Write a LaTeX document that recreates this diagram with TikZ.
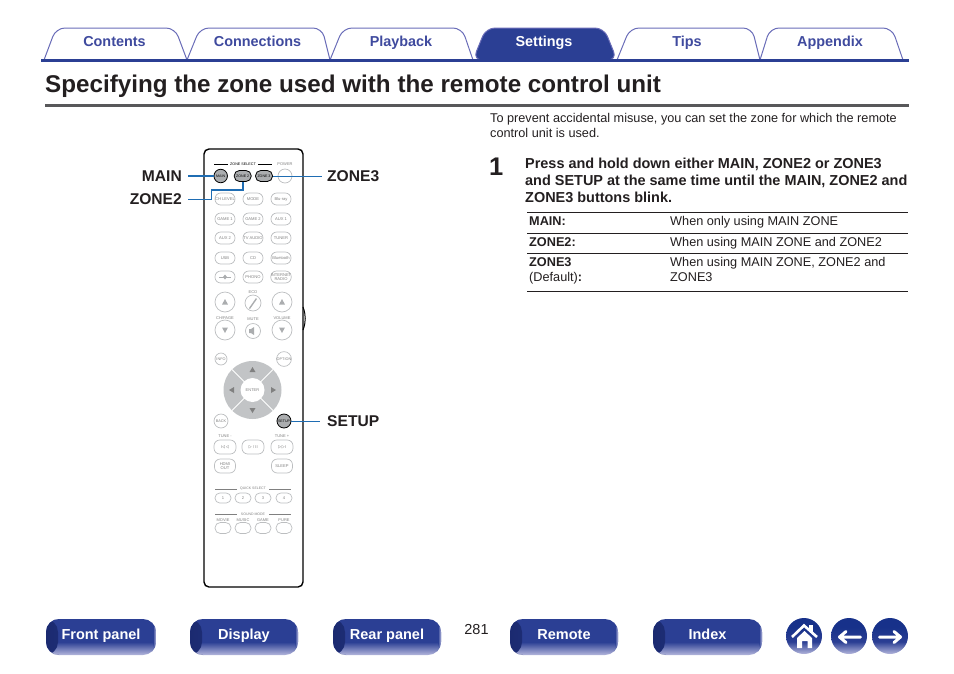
\documentclass[tikz,border=0pt]{standalone}
\usepackage{fontspec}
\usepackage{xcolor}
\setmainfont{Liberation Sans}
\usetikzlibrary{shapes.geometric, arrows, positioning, calc}

\definecolor{navblue}{HTML}{2B3F94}
\definecolor{navdark}{HTML}{1B2A70}
\definecolor{navtop}{HTML}{17318A}
\definecolor{navpale}{HTML}{B4B6DC}
\definecolor{navline}{HTML}{6A6DB8}
\definecolor{navtext}{HTML}{3F4A9E}
\definecolor{inkblack}{HTML}{231F20}
\definecolor{rulegray}{HTML}{58585A}
\definecolor{keygray}{HTML}{ABADAF}
\definecolor{ringgray}{HTML}{C2C4C6}
\definecolor{keyline}{HTML}{BCBEC0}
\definecolor{calloutblue}{HTML}{1F6DB3}

\pgfdeclareverticalshading{btnfill}{100bp}{color(0bp)=(navpale); color(25bp)=(navpale); color(43bp)=(navblue); color(75bp)=(navblue); color(100bp)=(navblue)}
\pgfdeclareverticalshading{ballfill}{100bp}{color(0bp)=(navpale); color(25bp)=(navpale); color(42bp)=(navblue); color(62bp)=(navtop); color(100bp)=(navtop)}

\tikzset{
    tabtext/.style={font=\fontsize{14.4}{14.4}\selectfont\bfseries, navtext, inner sep=0pt, anchor=base},
    navbtn/.style={rounded corners=13pt, minimum width=#1, minimum height=36pt, inner sep=0pt,
        shading=btnfill, text=white,
        path picture={
            \shade[left color=navdark, right color=navblue, draw=none] (path picture bounding box.south west) rectangle ++(12pt,36pt);
            \shade[left color=navblue, right color=navpale, draw=none] (path picture bounding box.south east) rectangle ++(-3pt,36pt);
        }},
    navlabel/.style={text=white, font=\fontsize{14.5}{14.5}\selectfont\bfseries, inner sep=0pt, anchor=base},
    roundnav/.style={circle, minimum size=36pt, inner sep=0pt, shading=ballfill},
    ovalkey/.style={draw=keyline, line width=0.7pt, rounded corners=5.8pt, minimum width=#1, minimum height=12pt,
        inner sep=0pt, font=\fontsize{4.1}{4.3}\selectfont, text=gray, align=center},
    bigkey/.style={draw=keyline, line width=0.7pt, circle, minimum size=#1, inner sep=0pt,
        font=\fontsize{3.8}{4}\selectfont, text=gray},
    hotkey/.style={draw=black, line width=0.8pt, fill=keygray, rounded corners=5.2pt, inner sep=0pt, text=black,
        font=\fontsize{3.6}{3.6}\selectfont},
    keycap/.style={font=\fontsize{4}{4.2}\selectfont, text=gray, inner sep=0pt},
    calloutlbl/.style={font=\fontsize{15.6}{15.6}\selectfont\bfseries, inkblack, inner sep=0pt},
    callout/.style={calloutblue, line width=#1},
    callout/.default=1pt,
    bodytext/.style={font=\fontsize{12.7}{15}\selectfont, inkblack, inner sep=0pt, anchor=base west},
    steptext/.style={font=\fontsize{14.45}{17}\selectfont\bfseries, inkblack, inner sep=0pt, anchor=base west},
    tablerule/.style={inkblack, line width=0.8pt}
}

\begin{document}
\begin{tikzpicture}[x=1pt, y=-1pt]
\useasboundingbox (0,0) rectangle (954,673);

% Tabs
\foreach \xa/\xb/\xc/\xd/\xt/\tablabel/\tabname in {
    44/63/170/187/114.5/Contents/contents, 187/207/317/330/257.5/Connections/connections,
    330/350/457/473/401/Playback/playback, 617/637/747/760/687/Tips/tips, 760/777/887/903/830/Appendix/appendix} {
    \draw[navline, line width=1pt, rounded corners=9pt]
        (\xa,60) -- (\xb-7,28) -- (\xc+5,28) -- (\xd,60);
    \node[tabtext] (tab\tabname) at (\xt,46) {\tablabel};
}
\fill[navblue, draw=navline, line width=1pt, rounded corners=9pt] (473,60) -- (486,28) -- (604,28) -- (617,60) -- cycle;
\node[tabtext, text=white] (tabsettings) at (544,46) {Settings};
\fill[navblue] (41,58.5) rectangle (909,61.5);

% Title
\node[anchor=base west, inner sep=0pt, inkblack, font=\fontsize{24.2}{24.2}\selectfont\bfseries] (title) at (45,92)
    {Specifying the zone used with the remote control unit};
\fill[rulegray] (45,103.5) rectangle (909,106.5);

% Remote body
\draw[black, line width=1.4pt, rounded corners=5pt] (204,149) rectangle (303,587);
\draw[black, line width=1pt] (303,307) .. controls (306,315) and (306,322) .. (303,330);

% Zone select row
\draw[black, line width=0.5pt] (214,164) -- (228,164) (258,164) -- (272,164);
\node[keycap, text=black, font=\fontsize{3.7}{4}\selectfont] (capzone) at (243,164) {ZONE SELECT};
\node[keycap] (cappower) at (285,164) {POWER};
\node[hotkey, circle, minimum size=13.5pt] (btnmain) at (220.7,176) {MAIN};
\node[hotkey, minimum width=17pt, minimum height=11pt] (btnzonetwo) at (242.7,176) {ZONE 2};
\node[hotkey, minimum width=17pt, minimum height=11pt] (btnzonethree) at (264,176) {ZONE 3};
\node[bigkey=14pt] (btnpower) at (285,176) {};

% Input keys
\foreach \ky/\ka/\kb/\kc/\kname in {
    199/CH LEVEL/MODE/Blu-ray/rowa, 219/GAME 1/GAME 2/AUX 1/rowb,
    238/AUX 2/TV AUDIO/TUNER/rowc, 258/USB/CD/Bluetooth/rowd} {
    \node[ovalkey=20pt] (\kname a) at (225,\ky) {\ka};
    \node[ovalkey=20pt] (\kname b) at (253,\ky) {\kb};
    \node[ovalkey=20pt] (\kname c) at (281,\ky) {\kc};
}
\node[ovalkey=20pt] (rowea) at (225,277) {};
\fill[keygray] (225,274.5) -- (227,277) -- (225,279.5) -- (223,277) -- cycle;
\draw[keygray, line width=0.5pt] (219,277) -- (231,277);
\node[ovalkey=20pt] (roweb) at (253,277) {PHONO};
\node[ovalkey=20pt] (rowec) at (281,277) {INTERNET\\RADIO};

% Volume block
\node[keycap] (capeco) at (253,292) {ECO};
\node[keycap] (capch) at (225,318) {CH/PAGE};
\node[keycap] (capmute) at (253,319) {MUTE};
\node[keycap] (capvol) at (282,318) {VOLUME};
\node[bigkey=20pt] (chup) at (225,302) {};
\node[bigkey=16pt] (btneco) at (253,303) {};
\node[bigkey=20pt] (volup) at (282,302) {};
\node[bigkey=20pt] (chdown) at (225,330) {};
\node[bigkey=15pt] (btnmute) at (253,331) {};
\node[bigkey=20pt] (voldown) at (282,330) {};
\foreach \tipname in {chup, volup} {
    \fill[keygray] ($(\tipname)+(-3,2.5)$) -- ($(\tipname)+(3,2.5)$) -- ($(\tipname)+(0,-3)$) -- cycle;
}
\foreach \tipname in {chdown, voldown} {
    \fill[keygray] ($(\tipname)+(-3,-2.5)$) -- ($(\tipname)+(3,-2.5)$) -- ($(\tipname)+(0,3)$) -- cycle;
}
\fill[keygray] (249,308) -- (256,298) -- (257,299) -- (250,309) -- cycle;
\fill[keygray] (249,329) rectangle (251,333) (251,329) -- (254,327) -- (254,335) -- (251,333) -- cycle;

% Cursor ring
\node[bigkey=12pt] (btninfo) at (221,359) {INFO};
\node[bigkey=12pt] (btnoption) at (284,359) {OPTION};
\fill[ringgray] (252.5,390) circle (29pt);
\draw[white, line width=0.8pt] (232,369.5) -- (273,410.5) (273,369.5) -- (232,410.5);
\node[circle, fill=white, minimum size=24pt, inner sep=0pt, keycap] (btnenter) at (252.5,390) {ENTER};
\fill[gray] (249.5,372) -- (255.5,372) -- (252.5,367) -- cycle (249.5,408) -- (255.5,408) -- (252.5,413) -- cycle
    (234,387) -- (234,393) -- (229,390) -- cycle (271,387) -- (271,393) -- (276,390) -- cycle;
\node[bigkey=14pt] (btnback) at (221,421) {BACK};
\node[hotkey, circle, minimum size=14pt] (btnsetup) at (284,421) {SETUP};

% Tune block
\node[keycap] (captunea) at (225,436) {TUNE -};
\node[keycap] (captuneb) at (282,436) {TUNE +};
\node[ovalkey=22pt, minimum height=14pt] (btnprev) at (225,447) {I\(\triangleleft\triangleleft\)};
\node[ovalkey=22pt, minimum height=14pt] (btnplay) at (253,447) {\(\triangleright\) / II};
\node[ovalkey=22pt, minimum height=14pt] (btnnext) at (282,447) {\(\triangleright\triangleright\)I};
\node[ovalkey=21pt, minimum height=14pt] (btnhdmi) at (225,466) {HDMI\\OUT};
\node[ovalkey=21pt, minimum height=14pt] (btnsleep) at (282,466) {SLEEP};

% Quick select and sound mode
\draw[gray, line width=0.4pt] (215,489) -- (237,489) (269,489) -- (291,489);
\node[keycap, font=\fontsize{3.5}{4}\selectfont] (capquick) at (253,489) {QUICK SELECT};
\draw[gray, line width=0.4pt] (215,514) -- (237,514) (269,514) -- (291,514);
\node[keycap, font=\fontsize{3.5}{4}\selectfont] (capsound) at (253,514) {SOUND MODE};
\foreach \kx/\qlabel/\mlabel/\kname in {223/1/MOVIE/a, 243/2/MUSIC/b, 263/3/GAME/c, 284/4/PURE/d} {
    \node[ovalkey=16pt, minimum height=10pt, rounded corners=4.8pt] (quick\kname) at (\kx,498) {\qlabel};
    \node[keycap] (capmode\kname) at (\kx,520) {\mlabel};
    \node[ovalkey=16pt, minimum height=11pt, rounded corners=5.3pt] (mode\kname) at (\kx,528) {};
}

% Callouts
\node[calloutlbl, anchor=east] (lblmain) at (182,176) {MAIN};
\node[calloutlbl, anchor=east] (lblzonetwo) at (182,199.5) {ZONE2};
\node[calloutlbl, anchor=west] (lblzonethree) at (327,176) {ZONE3};
\node[calloutlbl, anchor=west] (lblsetup) at (327,421.5) {SETUP};
\coordinate (elbow) at (211,190);
\draw[callout=2pt, shorten <=6pt] (lblmain.east) -- (lblmain.east -| btnmain.west);
\draw[callout=1pt, shorten <=6pt] (lblzonetwo.east) -| (elbow);
\draw[callout=2pt] (elbow) -| (btnzonetwo.south);
\draw[callout, shorten >=5pt] (btnzonethree.east) -- (btnzonethree.east -| lblzonethree.west);
\draw[callout, shorten >=7pt] (btnsetup.east) -- (btnsetup.east -| lblsetup.west);

% Intro and step
\node[bodytext] (introa) at (490,122.8) {To prevent accidental misuse, you can set the zone for which the remote};
\node[bodytext] (introb) at (490,137.8) {control unit is used.};
\node[anchor=base west, inner sep=0pt, inkblack, font=\fontsize{25.5}{25.5}\selectfont\bfseries] (stepnum) at (489,175) {1};
\node[steptext] (stepa) at (525,168.7) {Press and hold down either MAIN, ZONE2 or ZONE3};
\node[steptext] (stepb) at (525,185.7) {and SETUP at the same time until the MAIN, ZONE2 and};
\node[steptext] (stepc) at (525,202.7) {ZONE3 buttons blink.};

% Table
\foreach \ruley in {212,233,253,291} {
    \draw[tablerule] (527,\ruley) -- (908,\ruley);
}
\node[bodytext] (cella) at (529,225) {\textbf{MAIN:}};
\node[bodytext] (cellb) at (670,225) {When only using MAIN ZONE};
\node[bodytext] (cellc) at (529,246) {\textbf{ZONE2:}};
\node[bodytext] (celld) at (670,246) {When using MAIN ZONE and ZONE2};
\node[bodytext] (celle) at (529,266.7) {\textbf{ZONE3}};
\node[bodytext] (cellf) at (670,266.7) {When using MAIN ZONE, ZONE2 and};
\node[bodytext] (cellg) at (529,281.7) {(Default)\textbf{:}};
\node[bodytext] (cellh) at (670,281.7) {ZONE3};

% Bottom navigation
\foreach \nx/\nw/\nlabel/\nname in {101/110/Front panel/front, 244/108/Display/display, 387/108/Rear panel/rear,
    564/108/Remote/remote, 707.5/109/Index/index} {
    \node[navbtn=\nw pt] (nav\nname) at (\nx,637) {};
    \node[navlabel] (lbl\nname) at (\nx,639) {\nlabel};
}
\node[anchor=base, inner sep=0pt, inkblack, font=\fontsize{14.5}{14.5}\selectfont] (pagenum) at (476.5,634) {281};

% Home and arrows
\node[roundnav] (navhome) at (804,636) {};
\node[roundnav] (navback) at (849,636) {};
\node[roundnav] (navnext) at (890,636) {};
\draw[white, line width=2.6pt] (792,637) -- (804,625.5) -- (817,637);
\fill[white] (809,624.5) rectangle (813,632);
\fill[white] (797,638) -- (804.5,631) -- (812,638) -- (812,648) -- (807.5,648) -- (807.5,641) -- (802,641) -- (802,648) -- (797,648) -- cycle;
\draw[white, line width=3pt, line cap=round, line join=round] (860.5,637) -- (840,637) (846,631.5) -- (839.5,637) -- (846,642.5);
\draw[white, line width=3pt, line cap=round, line join=round] (879.5,637) -- (900,637) (894,631.5) -- (900.5,637) -- (894,642.5);
\end{tikzpicture}
\end{document}
